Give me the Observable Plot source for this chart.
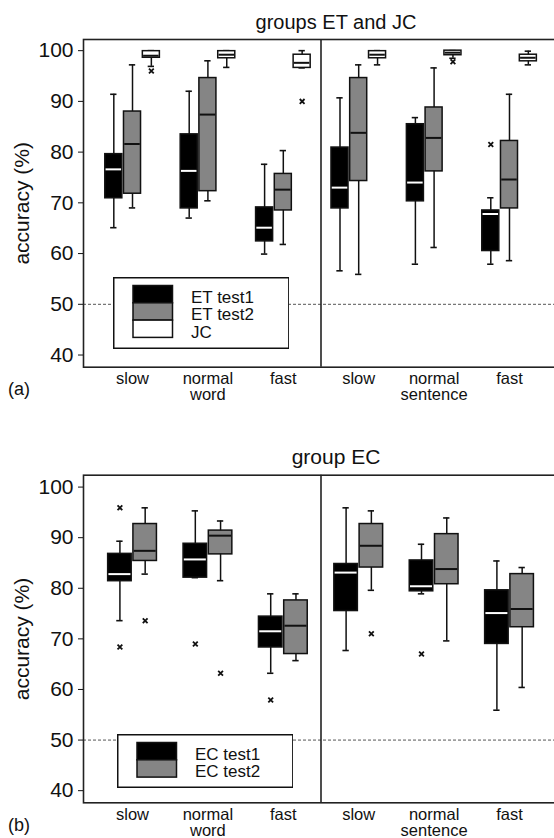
<!DOCTYPE html>
<html>
<head>
<meta charset="utf-8">
<script src="https://cdn.jsdelivr.net/npm/d3@7"></script>
<script src="https://cdn.jsdelivr.net/npm/@observablehq/plot@0.6"></script>
<style>
  body { margin: 0; background: #fff; }
  #page { position: relative; width: 554px; height: 838px; overflow: hidden; background: #fff;
          font-family: "Liberation Sans", Arial, sans-serif; color: #111; }
  .title { position: absolute; text-align: center; white-space: nowrap; }
</style>
</head>
<body>
<div id="page"></div>
<script>
// ---------- data ----------
const speeds   = ["slow", "normal", "fast", "slow", "normal", "fast"];
const contexts = ["word", "word", "word", "sentence", "sentence", "sentence"];
const yTicks   = [40, 50, 60, 70, 80, 90, 100];
const chance   = [50];

// each row: [lower whisker, Q1, median, Q3, upper whisker] for the 6 conditions
const etTest1 = [
  [65.1, 70.9, 76.6, 79.6, 91.4],
  [67.0, 68.9, 76.3, 83.5, 92.0],
  [59.9, 62.4, 65.1, 69.1, 77.6],
  [56.6, 68.9, 73.0, 80.9, 90.7],
  [57.9, 70.3, 74.0, 85.5, 86.8],
  [57.9, 60.5, 67.8, 68.5, 71.0]
];
const etTest2 = [
  [69.0, 71.8, 81.6, 88.0, 97.2],
  [70.4, 72.3, 87.4, 94.6, 98.0],
  [61.8, 68.5, 72.6, 75.7, 80.3],
  [55.9, 74.3, 83.8, 94.6, 97.2],
  [61.2, 76.2, 82.8, 88.8, 96.6],
  [58.6, 68.9, 74.6, 82.2, 91.4]
];
const jc = [
  [96.9, 98.6, 99.0, 99.9, 100.0],
  [96.7, 98.5, 99.2, 99.9, 100.0],
  [96.6, 96.6, 97.6, 99.2, 100.0],
  [97.2, 98.5, 99.2, 99.9, 100.0],
  [98.5, 99.1, 99.6, 100.0, 100.0],
  [97.2, 97.9, 98.6, 99.2, 99.9]
];
// outliers: [condition index, accuracy]
const etTest1Outliers = [[5, 81.5]];
const etTest2Outliers = [];
const jcOutliers = [[0, 96.0], [2, 90.0], [4, 97.8]];

const ecTest1 = [
  [73.6, 81.4, 82.8, 86.8, 89.3],
  [82.1, 82.1, 85.7, 88.8, 95.3],
  [63.2, 68.3, 71.5, 74.4, 78.9],
  [67.7, 75.5, 83.1, 84.8, 95.9],
  [78.9, 79.4, 80.4, 85.5, 88.7],
  [55.9, 69.0, 75.1, 79.6, 85.4]
];
const ecTest2 = [
  [82.8, 85.4, 87.4, 92.7, 95.9],
  [81.5, 86.7, 90.4, 91.4, 93.3],
  [65.7, 67.0, 72.6, 77.6, 78.9],
  [79.6, 84.1, 88.4, 92.7, 95.3],
  [69.6, 80.8, 83.8, 90.7, 93.9],
  [60.4, 72.3, 75.9, 82.8, 84.1]
];
const ecTest1Outliers = [[0, 95.9], [0, 68.4], [1, 69.0], [2, 57.9], [4, 67.0]];
const ecTest2Outliers = [[0, 73.6], [1, 63.2], [3, 71.0]];

// ---------- helpers ----------
const FONT = "'Liberation Sans', Arial, sans-serif";
const INK = "#111";
const page = document.getElementById("page");

function boxMarks(series) {
  const marks = [];
  for (const s of series) {
    const rows = s.stats.map((d, i) => ({x: i + s.offset, low: d[0], q1: d[1], med: d[2], q3: d[3], high: d[4]}));
    const hw = s.halfWidth, cap = 0.042;
    marks.push(
      Plot.ruleX(rows, {x: "x", y1: "low", y2: "high", stroke: INK, strokeWidth: 1.5}),
      Plot.ruleY(rows, {y: "low", x1: d => d.x - cap, x2: d => d.x + cap, stroke: INK, strokeWidth: 1.6}),
      Plot.ruleY(rows, {y: "high", x1: d => d.x - cap, x2: d => d.x + cap, stroke: INK, strokeWidth: 1.6}),
      Plot.rect(rows, {x1: d => d.x - hw, x2: d => d.x + hw, y1: "q1", y2: "q3",
                       fill: s.fill, stroke: INK, strokeWidth: 1.5}),
      Plot.ruleY(rows, {y: "med", x1: d => d.x - hw + 0.01, x2: d => d.x + hw - 0.01,
                        stroke: s.median, strokeWidth: 2}),
      Plot.dot(s.outliers.map(([i, v]) => ({x: i + s.offset, v})),
               {x: "x", y: "v", symbol: "times", r: 2.3, stroke: INK, strokeWidth: 1.8})
    );
  }
  return marks;
}

function makeChart({series, height, marginTop, marginBottom, yDomain}) {
  return Plot.plot({
    width: 558, height, marginLeft: 83, marginRight: 0, marginTop, marginBottom,
    style: {fontFamily: FONT, color: INK, background: "transparent", overflow: "visible", maxWidth: "none"},
    x: {type: "linear", domain: [-0.65, 5.65]},
    y: {domain: yDomain},
    marks: [
      Plot.ruleY(chance, {stroke: "#555", strokeWidth: 1, strokeDasharray: "3,2"}),
      ...boxMarks(series),
      Plot.ruleX([2.5], {stroke: "#222", strokeWidth: 1.6}),
      Plot.frame({stroke: "#222", strokeWidth: 1.6}),
      Plot.axisY({ticks: yTicks, tickSize: 5, tickPadding: 5, fontSize: 21,
                  label: "accuracy (%)", labelAnchor: "center", labelArrow: "none", labelOffset: 69}),
      Plot.axisX({ticks: d3.range(speeds.length), tickSize: 0, tickPadding: 5, fontSize: 16.5, label: null,
                  tickFormat: i => speeds[i] === "normal" ? speeds[i] + "\n" + contexts[i] : speeds[i]})
    ]
  });
}

function place(el, y) {
  el.style.position = "absolute";
  el.style.left = "0px";
  el.style.top = y + "px";
  el.style.maxWidth = "none";
  page.appendChild(el);
}

function addText(text, left, y, size, width) {
  const d = document.createElement("div");
  d.className = "title";
  d.textContent = text;
  d.style.left = left + "px";
  d.style.top = y + "px";
  d.style.fontSize = size + "px";
  d.style.lineHeight = size + "px";
  if (width) d.style.width = width + "px";
  page.appendChild(d);
}

function addLegend(left, y, w, h, items) {
  const svg = d3.create("svg").attr("width", w).attr("height", h)
    .style("position", "absolute").style("left", left + "px").style("top", y + "px");
  svg.append("rect").attr("x", 0.75).attr("y", 0.75).attr("width", w - 1.5).attr("height", h - 1.5)
    .attr("fill", "#fff").attr("stroke", INK).attr("stroke-width", 1.5);
  items.forEach((it, k) => {
    svg.append("rect").attr("x", 20).attr("y", 8.5 + k * 17.3).attr("width", 39.5).attr("height", 17.3)
      .attr("fill", it.fill).attr("stroke", INK).attr("stroke-width", 1.5);
    svg.append("text").attr("x", 78).attr("y", 25.5 + k * 17.8).text(it.label)
      .attr("font-family", FONT).attr("font-size", 17).attr("fill", INK);
  });
  page.appendChild(svg.node());
}

// ---------- top panel: groups ET and JC ----------
const chartET = makeChart({
  height: 420, marginTop: 39, marginBottom: 53.3, yDomain: [37.6, 102.2],
  series: [
    {stats: etTest1, outliers: etTest1Outliers, offset: -0.248, halfWidth: 0.113, fill: "#000", median: "#fff"},
    {stats: etTest2, outliers: etTest2Outliers, offset: 0,      halfWidth: 0.113, fill: "#858585", median: INK},
    {stats: jc,      outliers: jcOutliers,      offset: 0.25,   halfWidth: 0.113, fill: "#fff", median: INK}
  ]
});
place(chartET, 0);
addText("groups ET and JC", 236, 12, 20, 200);
addText("(a)", 8, 380, 18);
addLegend(112.7, 277.3, 176.6, 72, [
  {fill: "#000", label: "ET test1"},
  {fill: "#858585", label: "ET test2"},
  {fill: "#fff", label: "JC"}
]);

// ---------- bottom panel: group EC ----------
const chartEC = makeChart({
  height: 418, marginTop: 54.7, marginBottom: 35.7, yDomain: [37.6, 102.35],
  series: [
    {stats: ecTest1, outliers: ecTest1Outliers, offset: -0.167, halfWidth: 0.156, fill: "#000", median: "#fff"},
    {stats: ecTest2, outliers: ecTest2Outliers, offset: 0.168,  halfWidth: 0.156, fill: "#858585", median: INK}
  ]
});
place(chartEC, 420);
addText("group EC", 236, 446, 21, 200);
addText("(b)", 8, 816, 18);
addLegend(116.7, 734.3, 176.6, 54, [
  {fill: "#000", label: "EC test1"},
  {fill: "#858585", label: "EC test2"}
]);
</script>
</body>
</html>
